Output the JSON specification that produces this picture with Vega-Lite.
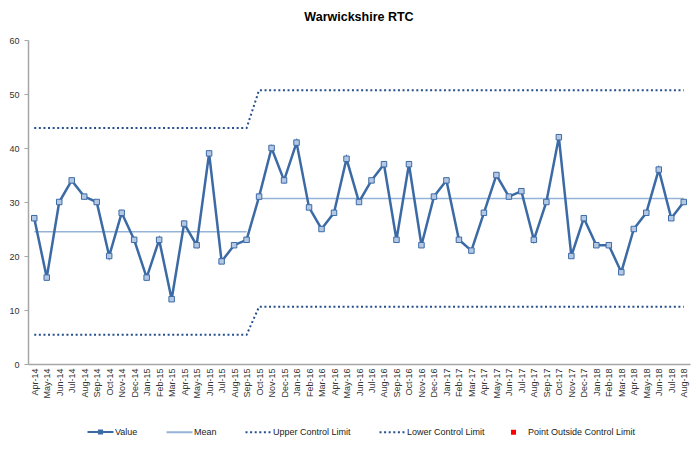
{
  "$schema": "https://vega.github.io/schema/vega-lite/v6.json",
  "autosize": {"type": "none"},
  "width": 662,
  "height": 324,
  "padding": {"left": 28, "top": 40, "right": 6, "bottom": 98},
  "background": "white",
  "title": {"text": "Warwickshire RTC", "fontSize": 12.5, "font": "Liberation Sans", "fontWeight": "bold", "color": "#000000", "offset": 13, "anchor": "middle"},
  "config": {
    "view": {"stroke": null},
    "font": "Liberation Sans",
    "axis": {"labelFont": "Liberation Sans", "labelFontSize": 9, "labelColor": "#333333", "domainColor": "#a6a6a6", "tickColor": "#a6a6a6", "grid": false, "title": null}
  },
  "data": {"values": [
    {"m":"Apr-14","v":27,"mean":24.5,"ucl":43.7,"lcl":5.4,"p":1},
    {"m":"May-14","v":16,"mean":24.5,"ucl":43.7,"lcl":5.4,"p":1},
    {"m":"Jun-14","v":30,"mean":24.5,"ucl":43.7,"lcl":5.4,"p":1},
    {"m":"Jul-14","v":34,"mean":24.5,"ucl":43.7,"lcl":5.4,"p":1},
    {"m":"Aug-14","v":31,"mean":24.5,"ucl":43.7,"lcl":5.4,"p":1},
    {"m":"Sep-14","v":30,"mean":24.5,"ucl":43.7,"lcl":5.4,"p":1},
    {"m":"Oct-14","v":20,"mean":24.5,"ucl":43.7,"lcl":5.4,"p":1},
    {"m":"Nov-14","v":28,"mean":24.5,"ucl":43.7,"lcl":5.4,"p":1},
    {"m":"Dec-14","v":23,"mean":24.5,"ucl":43.7,"lcl":5.4,"p":1},
    {"m":"Jan-15","v":16,"mean":24.5,"ucl":43.7,"lcl":5.4,"p":1},
    {"m":"Feb-15","v":23,"mean":24.5,"ucl":43.7,"lcl":5.4,"p":1},
    {"m":"Mar-15","v":12,"mean":24.5,"ucl":43.7,"lcl":5.4,"p":1},
    {"m":"Apr-15","v":26,"mean":24.5,"ucl":43.7,"lcl":5.4,"p":1},
    {"m":"May-15","v":22,"mean":24.5,"ucl":43.7,"lcl":5.4,"p":1},
    {"m":"Jun-15","v":39,"mean":24.5,"ucl":43.7,"lcl":5.4,"p":1},
    {"m":"Jul-15","v":19,"mean":24.5,"ucl":43.7,"lcl":5.4,"p":1},
    {"m":"Aug-15","v":22,"mean":24.5,"ucl":43.7,"lcl":5.4,"p":1},
    {"m":"Sep-15","v":23,"mean":24.5,"ucl":43.7,"lcl":5.4,"p":1},
    {"m":"Oct-15","v":31,"mean":30.65,"ucl":50.7,"lcl":10.6,"p":2},
    {"m":"Nov-15","v":40,"mean":30.65,"ucl":50.7,"lcl":10.6,"p":2},
    {"m":"Dec-15","v":34,"mean":30.65,"ucl":50.7,"lcl":10.6,"p":2},
    {"m":"Jan-16","v":41,"mean":30.65,"ucl":50.7,"lcl":10.6,"p":2},
    {"m":"Feb-16","v":29,"mean":30.65,"ucl":50.7,"lcl":10.6,"p":2},
    {"m":"Mar-16","v":25,"mean":30.65,"ucl":50.7,"lcl":10.6,"p":2},
    {"m":"Apr-16","v":28,"mean":30.65,"ucl":50.7,"lcl":10.6,"p":2},
    {"m":"May-16","v":38,"mean":30.65,"ucl":50.7,"lcl":10.6,"p":2},
    {"m":"Jun-16","v":30,"mean":30.65,"ucl":50.7,"lcl":10.6,"p":2},
    {"m":"Jul-16","v":34,"mean":30.65,"ucl":50.7,"lcl":10.6,"p":2},
    {"m":"Aug-16","v":37,"mean":30.65,"ucl":50.7,"lcl":10.6,"p":2},
    {"m":"Sep-16","v":23,"mean":30.65,"ucl":50.7,"lcl":10.6,"p":2},
    {"m":"Oct-16","v":37,"mean":30.65,"ucl":50.7,"lcl":10.6,"p":2},
    {"m":"Nov-16","v":22,"mean":30.65,"ucl":50.7,"lcl":10.6,"p":2},
    {"m":"Dec-16","v":31,"mean":30.65,"ucl":50.7,"lcl":10.6,"p":2},
    {"m":"Jan-17","v":34,"mean":30.65,"ucl":50.7,"lcl":10.6,"p":2},
    {"m":"Feb-17","v":23,"mean":30.65,"ucl":50.7,"lcl":10.6,"p":2},
    {"m":"Mar-17","v":21,"mean":30.65,"ucl":50.7,"lcl":10.6,"p":2},
    {"m":"Apr-17","v":28,"mean":30.65,"ucl":50.7,"lcl":10.6,"p":2},
    {"m":"May-17","v":35,"mean":30.65,"ucl":50.7,"lcl":10.6,"p":2},
    {"m":"Jun-17","v":31,"mean":30.65,"ucl":50.7,"lcl":10.6,"p":2},
    {"m":"Jul-17","v":32,"mean":30.65,"ucl":50.7,"lcl":10.6,"p":2},
    {"m":"Aug-17","v":23,"mean":30.65,"ucl":50.7,"lcl":10.6,"p":2},
    {"m":"Sep-17","v":30,"mean":30.65,"ucl":50.7,"lcl":10.6,"p":2},
    {"m":"Oct-17","v":42,"mean":30.65,"ucl":50.7,"lcl":10.6,"p":2},
    {"m":"Nov-17","v":20,"mean":30.65,"ucl":50.7,"lcl":10.6,"p":2},
    {"m":"Dec-17","v":27,"mean":30.65,"ucl":50.7,"lcl":10.6,"p":2},
    {"m":"Jan-18","v":22,"mean":30.65,"ucl":50.7,"lcl":10.6,"p":2},
    {"m":"Feb-18","v":22,"mean":30.65,"ucl":50.7,"lcl":10.6,"p":2},
    {"m":"Mar-18","v":17,"mean":30.65,"ucl":50.7,"lcl":10.6,"p":2},
    {"m":"Apr-18","v":25,"mean":30.65,"ucl":50.7,"lcl":10.6,"p":2},
    {"m":"May-18","v":28,"mean":30.65,"ucl":50.7,"lcl":10.6,"p":2},
    {"m":"Jun-18","v":36,"mean":30.65,"ucl":50.7,"lcl":10.6,"p":2},
    {"m":"Jul-18","v":27,"mean":30.65,"ucl":50.7,"lcl":10.6,"p":2},
    {"m":"Aug-18","v":30,"mean":30.65,"ucl":50.7,"lcl":10.6,"p":2}
  ]},
  "encoding": {
    "x": {"field": "m", "type": "ordinal", "sort": null, "scale": {"type": "point", "padding": 0.5},
      "axis": {"labelAngle": 270, "labelAlign": "right", "labelBaseline": "middle", "ticks": false, "labelPadding": 4, "domainWidth": 1.5}}
  },
  "layer": [
    {
      "mark": {"type": "line", "strokeWidth": 2, "strokeDash": [2, 2.6], "strokeCap": "butt"},
      "encoding": {
        "y": {"field": "ucl", "type": "quantitative", "scale": {"domain": [0, 60]},
          "axis": {"values": [0, 10, 20, 30, 40, 50, 60], "tickSize": 4, "labelPadding": 5, "domainWidth": 1.5}},
        "color": {"datum": "Upper Control Limit", "type": "nominal",
          "scale": {"domain": ["Value", "Mean", "Upper Control Limit", "Lower Control Limit", "Point Outside Control Limit"],
                    "range": ["#3b6aa5", "#95b3d7", "#264f8c", "#264f8c", "#ff0000"]},
          "legend": {"title": null, "orient": "none", "legendX": 68, "legendY": 387, "direction": "horizontal",
            "labelFont": "Liberation Sans", "labelFontSize": 9, "labelColor": "#222222",
            "symbolSize": 676, "symbolType": "stroke", "columnPadding": 24, "labelOffset": 10,
            "encode": {"symbols": {"update": {
              "shape": {"signal": "datum.value === 'Value' ? 'M-1,0H1M-0.12,-0.12H0.12V0.12H-0.12Z' : datum.value === 'Point Outside Control Limit' ? 'square' : 'stroke'"},
              "size": {"signal": "datum.value === 'Point Outside Control Limit' ? 25 : 676"},
              "fill": {"signal": "datum.value === 'Value' ? '#b4c8e4' : datum.value === 'Point Outside Control Limit' ? '#ff0000' : 'transparent'"},
              "strokeWidth": {"signal": "datum.value === 'Point Outside Control Limit' ? 0 : 2"},
              "strokeDash": {"signal": "indexof(['Upper Control Limit','Lower Control Limit'], datum.value) >= 0 ? [2, 2.6] : []"},
              "opacity": {"value": 1}
            }}}}
        }
      }
    },
    {
      "mark": {"type": "line", "strokeWidth": 2, "strokeDash": [2, 2.6], "strokeCap": "butt"},
      "encoding": {
        "y": {"field": "lcl", "type": "quantitative"},
        "color": {"datum": "Lower Control Limit", "type": "nominal"}
      }
    },
    {
      "mark": {"type": "line", "strokeWidth": 1.5},
      "encoding": {
        "y": {"field": "mean", "type": "quantitative"},
        "detail": {"field": "p", "type": "nominal"},
        "color": {"datum": "Mean", "type": "nominal"}
      }
    },
    {
      "mark": {"type": "line", "strokeWidth": 2.5},
      "encoding": {
        "y": {"field": "v", "type": "quantitative"},
        "color": {"datum": "Value", "type": "nominal"}
      }
    },
    {
      "mark": {"type": "point", "shape": "square", "size": 30, "filled": true, "fill": "#b4c8e4", "stroke": "#3b6aa5", "strokeWidth": 1, "opacity": 1},
      "encoding": {
        "y": {"field": "v", "type": "quantitative"}
      }
    }
  ]
}
